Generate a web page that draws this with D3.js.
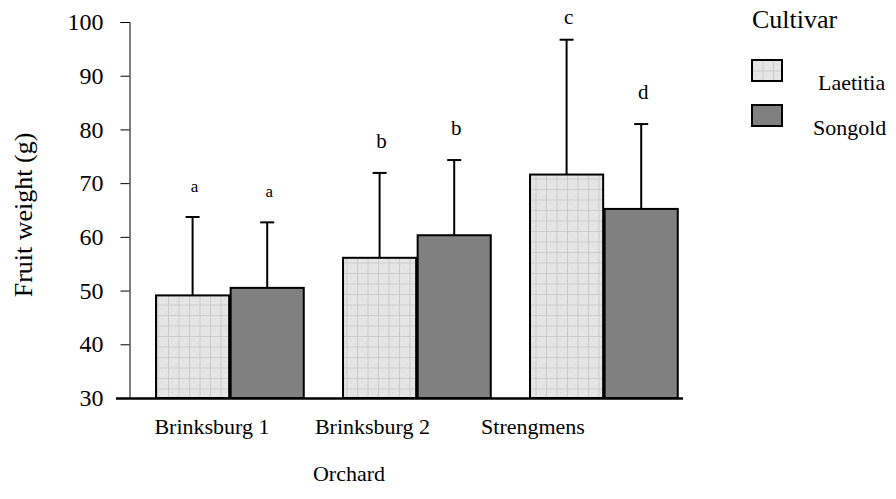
<!DOCTYPE html>
<html>
<head>
<meta charset="utf-8">
<script src="https://cdn.jsdelivr.net/npm/d3@7"></script>
<style>
  body { margin: 0; background: #fff; }
  text { font-family: "Liberation Serif", "Times New Roman", serif; fill: #000; }
</style>
</head>
<body>
<svg id="chart" width="896" height="499"></svg>
<script>
// data
const orchards = ["Brinksburg 1", "Brinksburg 2", "Strengmens"];
const cultivars = ["Laetitia", "Songold"];
const laetitiaMean = [49.1, 56.1, 71.6];
const songoldMean = [50.5, 60.3, 65.2];
const laetitiaErr = [63.7, 71.9, 96.7];
const songoldErr = [62.7, 74.3, 81.0];
const laetitiaLetters = ["a", "b", "c"];
const songoldLetters = ["a", "b", "d"];
const yTicks = [30, 40, 50, 60, 70, 80, 90, 100];

const rows = [];
orchards.forEach(function(o, i) {
  rows.push({orchard: o, cultivar: "Laetitia", mean: laetitiaMean[i], top: laetitiaErr[i], letter: laetitiaLetters[i]});
  rows.push({orchard: o, cultivar: "Songold", mean: songoldMean[i], top: songoldErr[i], letter: songoldLetters[i]});
});

const svg = d3.select("#chart");

// pattern for Laetitia
const defs = svg.append("defs");
const pat = defs.append("pattern").attr("id", "grid").attr("patternUnits", "userSpaceOnUse")
  .attr("width", 10.5).attr("height", 10.5);
pat.append("rect").attr("width", 10.5).attr("height", 10.5).attr("fill", "#e6e6e6");
pat.append("path").attr("d", "M0,0.5H10.5M0.5,0V10.5").attr("stroke", "#cacaca").attr("stroke-width", 1);
pat.append("rect").attr("x", 4).attr("y", 4).attr("width", 1).attr("height", 1).attr("fill", "#d0d0d0");
pat.append("rect").attr("x", 8).attr("y", 7).attr("width", 1).attr("height", 1).attr("fill", "#d4d4d4");

const fills = {Laetitia: "url(#grid)", Songold: "#808080"};

const y = d3.scaleLinear().domain([30, 100]).range([398, 22]);

const x0 = d3.scaleBand().domain(orchards).range([136.4, 697.4]).paddingInner(0.21).paddingOuter(0.105);
const x1 = d3.scaleBand().domain(cultivars).range([0, x0.bandwidth()]).paddingInner(0.02);
// category labels sit to the left of the groups in the original
const xLabel = d3.scalePoint().domain(orchards).range([212, 533]);

// y axis
const yAxis = d3.axisLeft(y).tickValues(yTicks).tickSize(9).tickPadding(17).tickFormat(d3.format("d"));
const yg = svg.append("g").attr("transform", "translate(129.5,0)").call(yAxis);
yg.select(".domain").attr("stroke", "#000").attr("stroke-width", 1);
yg.selectAll(".tick line").attr("stroke", "#000");
yg.selectAll(".tick text").attr("font-size", 24).attr("font-family", "Liberation Serif");

// bars
const g = svg.append("g");
g.selectAll("rect.bar").data(rows).enter().append("rect")
  .attr("class", "bar")
  .attr("x", d => x0(d.orchard) + x1(d.cultivar))
  .attr("y", d => y(d.mean))
  .attr("width", x1.bandwidth())
  .attr("height", d => y(30) - y(d.mean))
  .attr("fill", d => fills[d.cultivar])
  .attr("stroke", "#000")
  .attr("stroke-width", 2);

// error bars
const cx = d => x0(d.orchard) + x1(d.cultivar) + x1.bandwidth() / 2;
g.selectAll("line.err").data(rows).enter().append("line")
  .attr("x1", cx).attr("x2", cx)
  .attr("y1", d => y(d.mean)).attr("y2", d => y(d.top))
  .attr("stroke", "#000").attr("stroke-width", 2);
g.selectAll("line.cap").data(rows).enter().append("line")
  .attr("x1", d => cx(d) - 7).attr("x2", d => cx(d) + 7)
  .attr("y1", d => y(d.top)).attr("y2", d => y(d.top))
  .attr("stroke", "#000").attr("stroke-width", 2);
g.selectAll("text.letter").data(rows).enter().append("text")
  .attr("x", d => cx(d) + 2)
  .attr("y", d => y(d.top) - (d.letter == "c" ? 16 : 25))
  .attr("text-anchor", "middle")
  .attr("font-family", "Liberation Serif")
  .attr("font-size", d => d.letter == "a" ? 17 : 21)
  .text(d => d.letter);

// x axis line
svg.append("line").attr("x1", 116).attr("x2", 683).attr("y1", 398.5).attr("y2", 398.5)
  .attr("stroke", "#000").attr("stroke-width", 2.5);

svg.selectAll("text.cat").data(orchards).enter().append("text")
  .attr("x", d => xLabel(d)).attr("y", 434)
  .attr("text-anchor", "middle").attr("font-size", 22).attr("font-family", "Liberation Serif")
  .text(d => d);

svg.append("text").attr("x", 349).attr("y", 481).attr("text-anchor", "middle")
  .attr("font-size", 22).attr("font-family", "Liberation Serif").text("Orchard");

svg.append("text").attr("transform", "translate(32,215) rotate(-90)")
  .attr("text-anchor", "middle").attr("font-size", 26).attr("font-family", "Liberation Serif")
  .text("Fruit weight (g)");

// legend
svg.append("text").attr("x", 752).attr("y", 28).attr("font-size", 26)
  .attr("font-family", "Liberation Serif").text("Cultivar");
const leg = svg.selectAll("g.leg").data(cultivars).enter().append("g")
  .attr("transform", (d, i) => "translate(752," + (60 + i * 45) + ")");
leg.append("rect").attr("width", 30).attr("height", 21)
  .attr("fill", d => fills[d]).attr("stroke", "#000").attr("stroke-width", 2);
leg.append("text").attr("x", (d, i) => i == 0 ? 66 : 61).attr("y", 30).attr("font-size", 22)
  .attr("font-family", "Liberation Serif").text(d => d);
</script>
</body>
</html>
